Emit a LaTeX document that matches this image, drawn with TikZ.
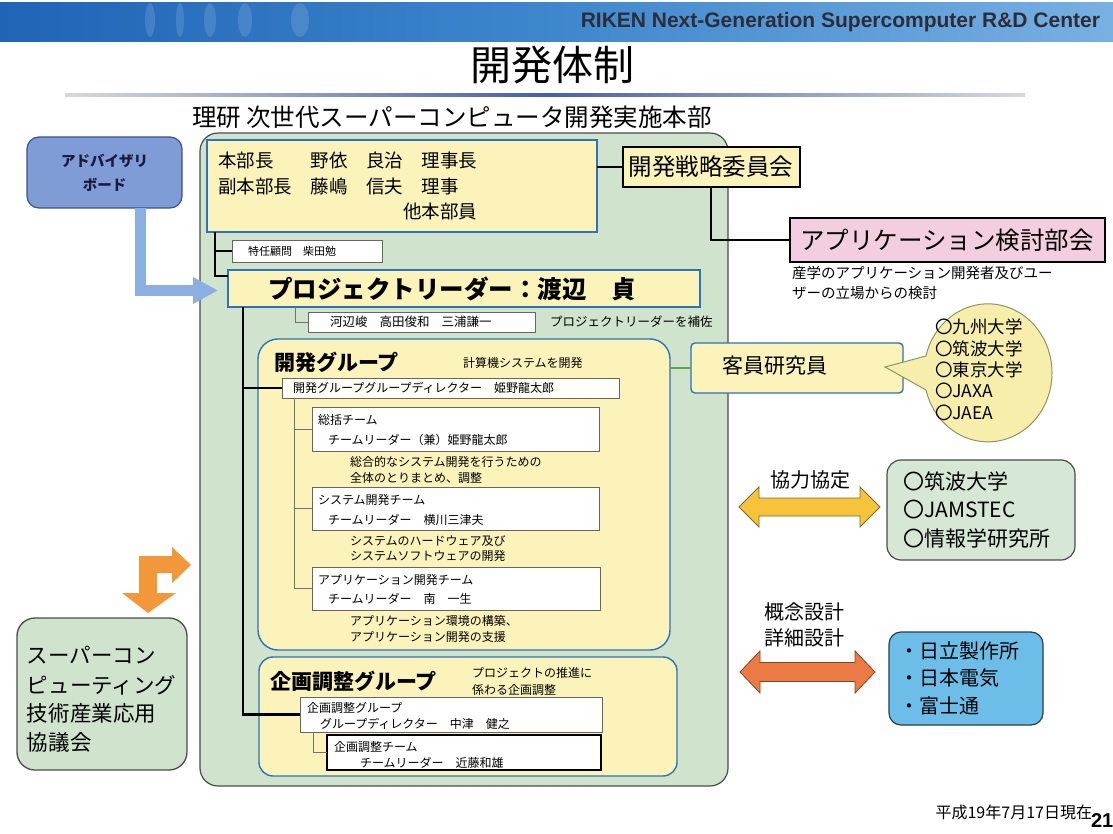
\documentclass[tikz,border=0pt]{standalone}
\usepackage{fontspec}
\setmainfont{Noto Sans CJK JP}
\newfontfamily\latfont{Liberation Sans}
\usetikzlibrary{arrows.meta,calc}
\newcommand\fsz[1]{\fontsize{#1}{#1}\selectfont}
\definecolor{grn}{RGB}{207,227,205}
\definecolor{grn2}{RGB}{214,231,213}
\definecolor{yel}{RGB}{251,243,186}
\definecolor{bblue}{RGB}{45,115,185}
\definecolor{pinkc}{RGB}{242,206,224}
\definecolor{advb}{RGB}{128,156,214}
\definecolor{arrb}{RGB}{140,175,225}
\definecolor{skyb}{RGB}{108,190,232}
\definecolor{orng}{RGB}{243,152,58}
\definecolor{orng2}{RGB}{236,122,68}
\definecolor{ylw2}{RGB}{246,196,58}
\definecolor{callc}{RGB}{248,238,172}
\definecolor{bnL}{RGB}{32,100,182}
\definecolor{bnM}{RGB}{62,135,205}
\definecolor{bnR}{RGB}{120,176,226}
\definecolor{hdtxt}{RGB}{45,45,55}
\definecolor{glink}{RGB}{95,160,95}
\tikzset{
  box/.style={anchor=north west, inner sep=0, outer sep=0},
  yelbox/.style={box, draw=bblue, fill=yel, line width=1.4},
  wbox/.style={box, draw=black!60, fill=white, line width=0.8},
  lbl/.style={anchor=west, inner sep=0, text=black},
  trunk/.style={draw=black, line width=2.2},
  twig/.style={draw=black!55, line width=0.8},
}
\begin{document}
\begin{tikzpicture}[x=1pt,y=-1pt,every node/.style={inner sep=0,outer sep=0}]
\useasboundingbox (0,0) rectangle (1113,834);
\fill[white] (0,0) rectangle (1113,834);
% header banner
\shade[left color=bnL, right color=bnR, middle color=bnM] (0,3) rectangle (1113,42);
\foreach \xx/\ww in {150/5,180/4,210/6,245/7,300/9}{
  \fill[white,opacity=0.13] (\xx,20) ellipse[x radius=\ww, y radius=17];
}
\node[anchor=east,text=hdtxt] (hdr) at (1100,22) {\latfont\bfseries\fsz{21}RIKEN Next-Generation Supercomputer R\&D Center};
\node (title) at (552,65) {\fsz{41}開発体制};
\shade[left color=black!15, right color=black!15, middle color={rgb,255:red,70;green,95;blue,170}] (65,93.5) rectangle (1025,96.5);

% HQ frame
\node[lbl] (hqtitle) at (192,117) {\fsz{24.5}理研 次世代スーパーコンピュータ開発実施本部};
\node[box, draw=black!70, fill=grn, rounded corners=18, line width=1.2, minimum width=528, minimum height=653] (hqframe) at (200,133) {};

% top management box
\node[yelbox, minimum width=390, minimum height=92] (hq) at (207,140) {};
\node[lbl] (hq1) at (218,160) {\fsz{18.5}本部長　　野依　良治　理事長};
\node[lbl] (hq2) at (218,186) {\fsz{18.5}副本部長　藤嶋　信夫　理事};
\node[lbl] (hq3) at (403,211) {\fsz{18.5}他本部員};

% strategy committee and application committee
\node[draw=black, line width=2, fill=yel, minimum width=177, minimum height=40] (senryaku) at (711,167) {\fsz{23.5}開発戦略委員会};
\draw[line width=2] (senryaku.west) -- (senryaku.west -| hq.east);
\node[draw=black, line width=2, fill=pinkc, minimum width=315, minimum height=44] (appk) at (947,240) {\fsz{24.5}アプリケーション検討部会};
\draw[line width=2] (senryaku.south) |- (appk.west);
\node[lbl] (appn1) at (792,273) {\fsz{14.5}産学のアプリケーション開発者及びユー};
\node[lbl] (appn2) at (792,293) {\fsz{14.5}ザーの立場からの検討};

% advisory board
\node[draw={rgb,255:red,60;green,80;blue,140}, fill=advb, rounded corners=12, line width=1.2, minimum width=155, minimum height=71, align=center, text={rgb,255:red,25;green,25;blue,60}, font={\fontsize{14.5}{24}\selectfont\bfseries}] (adv) at (104.5,172.5) {アドバイザリ\\ボード};

% special advisor
\node[wbox, minimum width=150, minimum height=22] (tokunin) at (232,240) {};
\node[lbl] (tokunintx) at (248,251) {\fsz{11}特任顧問　柴田勉};

% project leader
\node[yelbox, minimum width=472, minimum height=37] (pl) at (228,270) {};
\node[lbl] (pltx) at (268,289) {\fsz{24.5}\bfseries プロジェクトリーダー：渡辺　貞};
\coordinate (plin) at ([yshift=-6pt]pl.north west);
\coordinate (t1) at ([xshift=8pt]hq.south west);
\draw[trunk] (t1) |- (plin);
\draw[trunk] (tokunin.west) -- (tokunin.west -| t1);

% advisory arrow
\coordinate (advout) at ([xshift=36pt]adv.south);
\coordinate (advin) at ($(pl.west)+(-10,2)$);
\draw[arrb, line width=11, -{Triangle[length=25pt,width=25pt]}] (advout) |- (advin);

% assistants
\node[wbox, minimum width=227, minimum height=20] (kawabe) at (308,312) {};
\node[lbl] (kawabetx) at (330,322) {\fsz{12.5}河辺峻\hspace{12pt}高田俊和\hspace{12pt}三浦謙一};
\node[lbl] (hosa) at (550,322) {\fsz{12.5}プロジェクトリーダーを補佐};
\draw[twig] ([xshift=67pt]pl.south west) |- (kawabe.west);

% development group
\node[yelbox, rounded corners=20, minimum width=412, minimum height=311] (devgrp) at (258,339) {};
\node[lbl] (devtitle) at (274,362) {\fsz{21}\bfseries 開発グループ};
\node[lbl] (devnote) at (463,363) {\fsz{12}計算機システムを開発};
\node[wbox, fill=white!88!yel, minimum width=337, minimum height=20] (gdir) at (282,378) {};
\node[lbl] (gdirtx) at (293,388) {\fsz{12}開発グループグループディレクター　姫野龍太郎};

\node[wbox, minimum width=287, minimum height=44] (team1) at (312,407) {};
\node[lbl] (team1a) at (318,420) {\fsz{12}総括チーム};
\node[lbl] (team1b) at (328,440) {\fsz{12}チームリーダー（兼）姫野龍太郎};
\node[lbl] (desc1a) at (350,462) {\fsz{12}総合的なシステム開発を行うための};
\node[lbl] (desc1b) at (350,478) {\fsz{12}全体のとりまとめ、調整};

\node[wbox, minimum width=287, minimum height=43] (team2) at (312,487) {};
\node[lbl] (team2a) at (318,500) {\fsz{12}システム開発チーム};
\node[lbl] (team2b) at (328,520) {\fsz{12}チームリーダー　横川三津夫};
\node[lbl] (desc2a) at (350,541) {\fsz{12}システムのハードウェア及び};
\node[lbl] (desc2b) at (350,556) {\fsz{12}システムソフトウェアの開発};

\node[wbox, minimum width=288, minimum height=43] (team3) at (312,567) {};
\node[lbl] (team3a) at (318,580) {\fsz{12}アプリケーション開発チーム};
\node[lbl] (team3b) at (328,599) {\fsz{12}チームリーダー　南　一生};
\node[lbl] (desc3a) at (350,621) {\fsz{12}アプリケーション環境の構築、};
\node[lbl] (desc3b) at (350,637) {\fsz{12}アプリケーション開発の支援};

\coordinate (t3) at ([xshift=12pt]gdir.south west);
\draw[twig] (t3) |- (team3.west);
\draw[twig] (team1.west) -- (team1.west -| t3);
\draw[twig] (team2.west) -- (team2.west -| t3);

% planning group
\node[yelbox, rounded corners=14, minimum width=418, minimum height=119] (kikaku) at (259,657) {};
\node[lbl] (kiktitle) at (270,681) {\fsz{21}\bfseries 企画調整グループ};
\node[lbl] (kiknote1) at (472,673) {\fsz{12}プロジェクトの推進に};
\node[lbl] (kiknote2) at (472,690) {\fsz{12}係わる企画調整};
\node[wbox, minimum width=302, minimum height=35] (kgdir) at (300,697) {};
\node[lbl] (kgdira) at (307,708) {\fsz{12}企画調整グループ};
\node[lbl] (kgdirb) at (320,724) {\fsz{12}グループディレクター　中津　健之};
\node[box, draw=black, fill=white, line width=1.3, minimum width=274, minimum height=35] (kteam) at (327,735) {};
\node[lbl] (kteama) at (334,747) {\fsz{12}企画調整チーム};
\node[lbl] (kteamb) at (360,763) {\fsz{12}チームリーダー　近藤和雄};
\draw[twig] ([xshift=13pt]kgdir.south west) |- (kteam.west);

% main trunk
\coordinate (t2) at ([xshift=15pt]pl.south west);
\draw[trunk] (t2) |- (kgdir.west);
\draw[trunk] (gdir.west) -- (gdir.west -| t2);

% visiting researchers
\node[yelbox, rounded corners=4, minimum width=212, minimum height=50] (kakuin) at (691,343) {};
\node[lbl] (kakuintx) at (722,366) {\fsz{21}客員研究員};
\draw[glink, line width=2.5] (kakuin.west) -- (kakuin.west -| devgrp.east);

% callout
\coordinate (ctip) at (885,367);
\draw[fill=callc, draw={rgb,255:red,140;green,150;blue,100}, line width=1]
  (926,356) -- (ctip) -- (926,390) arc[start angle=165.6, end angle=-165.6, x radius=64, y radius=69] -- cycle;
\node[lbl] (c1) at (935,327) {\fsz{17.5}〇九州大学};
\node[lbl] (c2) at (935,349) {\fsz{17.5}〇筑波大学};
\node[lbl] (c3) at (935,370) {\fsz{17.5}〇東京大学};
\node[lbl] (c4) at (935,391) {\fsz{17.5}〇JAXA};
\node[lbl] (c5) at (935,413) {\fsz{17.5}〇JAEA};

% cooperation agreement
\node (coop) at (810,480) {\fsz{20}協力協定};
\fill[ylw2, draw={rgb,255:red,130;green,105;blue,40}, line width=0.8]
  (739,507) -- (759,487) -- (759,498) -- (860,498) -- (860,487) -- (880,507) -- (860,527) -- (860,516) -- (759,516) -- (759,527) -- cycle;
\node[box, draw=black!70, fill=grn2, rounded corners=14, line width=1.2, minimum width=188, minimum height=100] (univ) at (887,460) {};
\node[lbl] (u1) at (903,481) {\fsz{21}〇筑波大学};
\node[lbl] (u2) at (903,510) {\fsz{21}〇JAMSTEC};
\node[lbl] (u3) at (903,539) {\fsz{21}〇情報学研究所};

% design
\node (des1) at (804,612) {\fsz{20}概念設計};
\node (des2) at (804,638) {\fsz{20}詳細設計};
\fill[orng2, draw={rgb,255:red,130;green,70;blue,40}, line width=0.8]
  (740,672) -- (760,651) -- (760,662.5) -- (855,662.5) -- (855,651) -- (875,672) -- (855,693) -- (855,681.5) -- (760,681.5) -- (760,693) -- cycle;
\node[box, draw={rgb,255:red,40;green,60;blue,80}, fill=skyb, rounded corners=12, line width=1.2, minimum width=154, minimum height=93] (maker) at (889,632) {};
\node[lbl] (m1) at (899,651) {\fsz{20}・日立製作所};
\node[lbl] (m2) at (899,678) {\fsz{20}・日本電気};
\node[lbl] (m3) at (899,706) {\fsz{20}・富士通};

% consortium
\node[box, draw=black!70, fill=grn, rounded corners=18, line width=1.3, minimum width=170, minimum height=152] (cons) at (17,618) {};
\node[lbl] (cons1) at (27,655) {\fsz{21.5}スーパーコン};
\node[lbl] (cons2) at (27,685) {\fsz{21.5}ピューティング};
\node[lbl] (cons3) at (27,713) {\fsz{21.5}技術産業応用};
\node[lbl] (cons4) at (27,742) {\fsz{21.5}協議会};
\fill[orng] (139,556) -- (172,556) -- (172,547) -- (191,565) -- (172,583) -- (172,573) -- (157,573) -- (157,593) -- (176,593) -- (148,613) -- (122,593) -- (139,593) -- cycle;

% footer
\node[anchor=east] (date) at (1092,812) {\fsz{16}平成19年7月17日現在};
\node[anchor=west] (pgno) at (1091,821) {\latfont\bfseries\fsz{20}21};
\end{tikzpicture}
\end{document}
